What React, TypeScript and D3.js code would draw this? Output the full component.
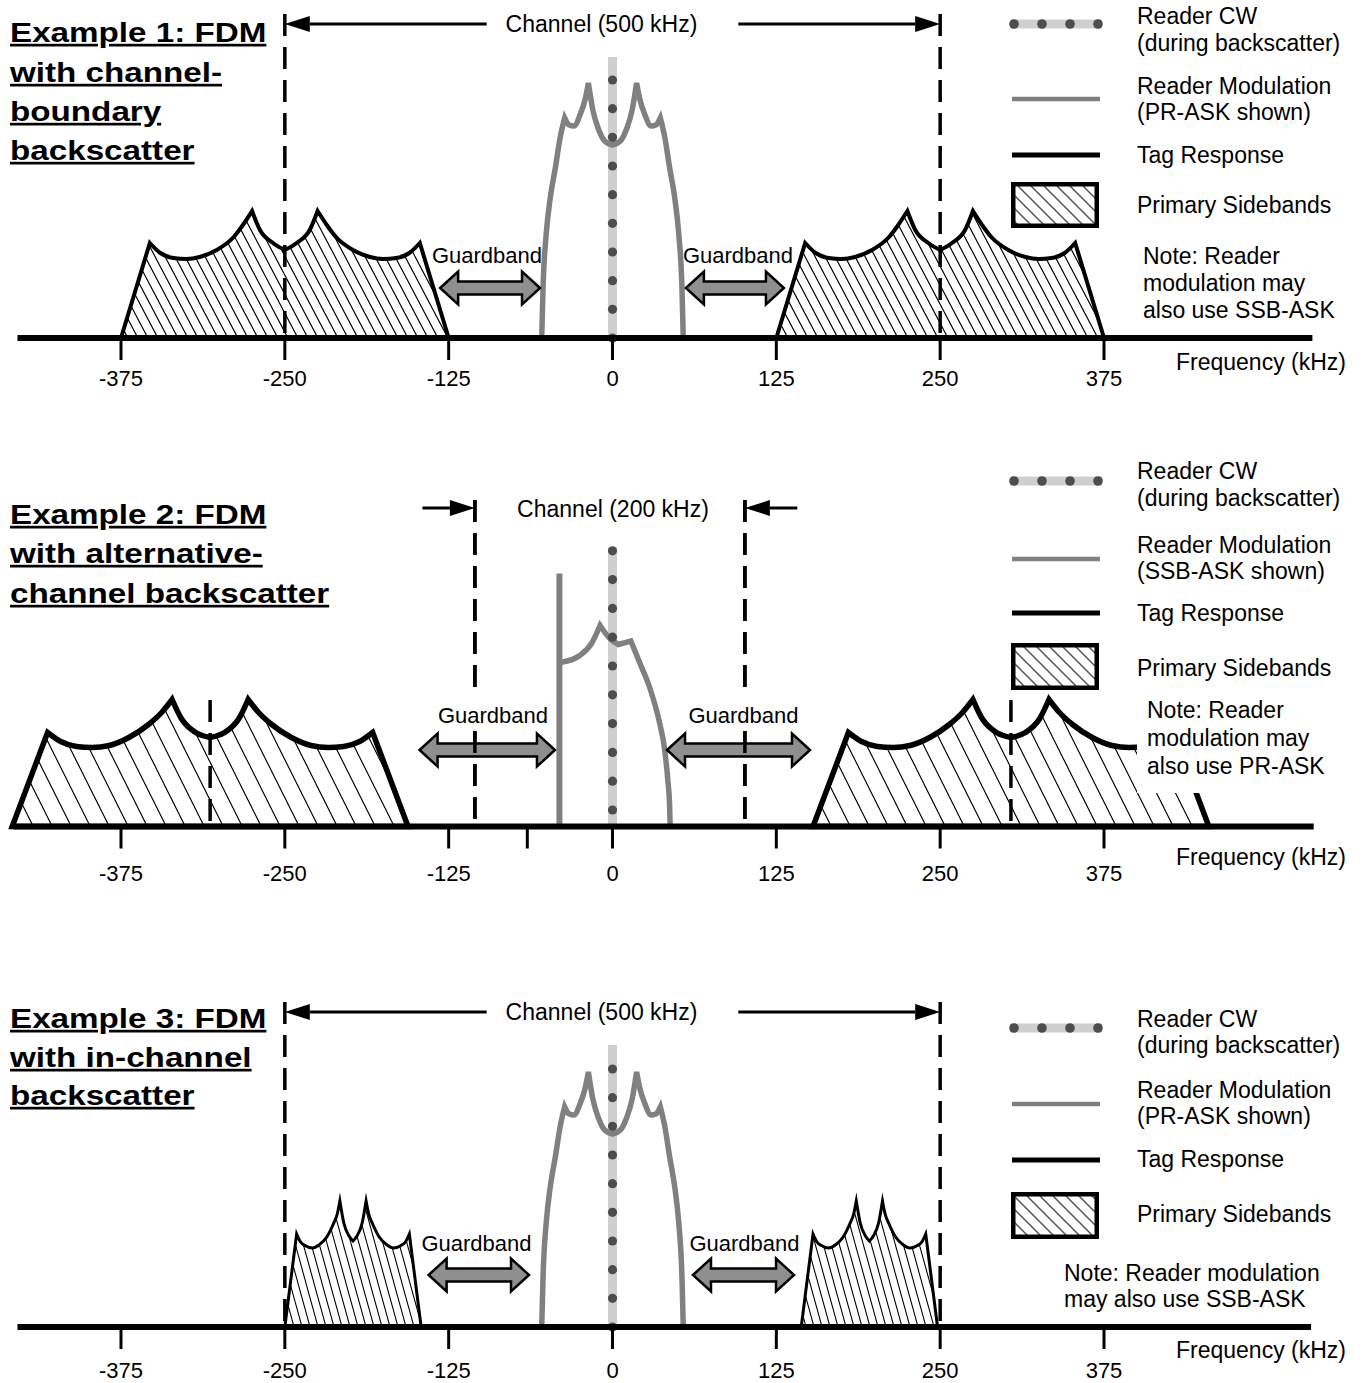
import React from 'react';
import * as d3 from 'd3';

type Pt = [number, number];

const FONT = '"Liberation Sans", Arial, Helvetica, sans-serif';
const GRAY = '#808080';

// ---------------- DATA ----------------
// frequency axis (kHz)
const ticks1 = [-375, -250, -125, 0, 125, 250, 375];
const ticks2 = [-375, -250, -125, -65, 0, 125, 250, 375];
const ticks3 = [-375, -250, -125, 0, 125, 250, 375];
const labelTicks = [-375, -250, -125, 0, 125, 250, 375];
const axisExtent1: Pt = [-454, 534];
const axisExtent2: Pt = [-457, 535];
const axisExtent3: Pt = [-454, 533];

// Primary sidebands: left half shape (offset from sideband centre in kHz, relative level)
const sb1Edge: Pt[] = [[-125, 0], [-103, 95]];
const sb1Arc: Pt[] = [[-103, 95], [-95, 85], [-85, 80], [-75, 79], [-65, 81], [-52, 88], [-39, 101], [-32, 113], [-25, 127]];
const sb1Mid: Pt[] = [[-25, 127], [-19, 108], [-9, 95], [0, 88]];
const sbCentres1 = [-250, 250];

const sb2Edge: Pt[] = [[-151, 0], [-124, 94]];
const sb2Arc: Pt[] = [[-124, 94], [-114, 85], [-102, 80], [-90, 79], [-77, 81], [-62, 89], [-47, 102], [-37, 114], [-29, 127]];
const sb2Mid: Pt[] = [[-29, 127], [-22, 108], [-11, 94], [0, 89]];
const sbCentres2 = [-307, 304];

const sb3Edge: Pt[] = [[-52, 0], [-43, 93]];
const sb3Arc: Pt[] = [[-43, 93], [-40, 85], [-36, 81], [-31, 79], [-26, 82], [-20, 90], [-15, 103], [-12, 113], [-10, 126]];
const sb3Mid: Pt[] = [[-10, 126], [-7, 104], [-3, 91], [0, 86]];
const sbCentres3 = [-198, 196];

// Reader modulation, PR-ASK (left half, kHz, level)
const prEdge: Pt[] = [[-54, 0], [-53, 50], [-50.5, 105], [-47.5, 140], [-43.5, 171], [-40, 200], [-36.5, 220]];
const prArc: Pt[] = [[-36.5, 220], [-33, 213], [-29.5, 212], [-24.5, 224], [-21, 238], [-18.4, 255]];
const prMid: Pt[] = [[-18.4, 255], [-15, 228], [-11, 210], [-6, 197], [0, 193]];

// Reader modulation, SSB-ASK (kHz, level)
const ssbCut: Pt[] = [[-40.5, 0], [-40.5, 253]];
const ssbRise: Pt[] = [[-40.5, 164], [-38, 164.5], [-25, 171], [-16, 183], [-9.5, 201]];
const ssbDip: Pt[] = [[-9.5, 201], [-2, 188], [4.5, 182]];
const ssbShoulder: Pt[] = [[4.5, 182], [14, 185.5]];
const ssbFall: Pt[] = [[14, 185.5], [21, 163], [28.6, 138], [35.5, 106], [40, 75], [42.3, 45], [43.6, 20], [44, 0]];

// Reader CW (dot levels and bar top level)
const cwDots1 = [0, 28.7, 57.3, 86, 114.7, 143.3, 172, 200.7, 229.3, 258];
const cwDots2 = [16.5, 45.3, 74.1, 102.9, 131.7, 160.5, 189.3, 218.1, 246.9, 275.7];
const cwDots3 = [0, 28.7, 57.3, 86, 114.7, 143.3, 172, 200.7, 229.3, 258];
const cwTop1 = 281, cwTop2 = 279, cwTop3 = 282;

// Channel edges and channel arrow tails (kHz)
const channel1: Pt = [-250, 250];
const channel2: Pt = [-105, 101];
const channel3: Pt = [-250, 250];
const chanTails1: Pt = [-96, 96];
const chanTails2: Pt = [-145, 141];
const chanTails3: Pt = [-96, 96];

// Guardbands (kHz)
const guards1: Pt[] = [[-131.5, -55.3], [56, 130.8]];
const guards2: Pt[] = [[-147.2, -43.9], [41.6, 150.7]];
const guards3: Pt[] = [[-140.3, -63.7], [61.4, 138.5]];

// Text
const titles1 = ['Example 1: FDM', 'with channel-', 'boundary', 'backscatter'];
const titles2 = ['Example 2: FDM', 'with alternative-', 'channel backscatter'];
const titles3 = ['Example 3: FDM', 'with in-channel', 'backscatter'];
const notes1 = ['Note: Reader', 'modulation may', 'also use SSB-ASK'];
const notes2 = ['Note: Reader', 'modulation may', 'also use PR-ASK'];
const notes3 = ['Note: Reader modulation', 'may also use SSB-ASK'];
const legendMod1 = '(PR-ASK shown)';
const legendMod2 = '(SSB-ASK shown)';
const legendMod3 = '(PR-ASK shown)';

// ---------------- HELPERS ----------------
type Seg = { pts: Pt[]; curve: d3.CurveFactory };

const mirror = (pts: Pt[]): Pt[] => pts.map(([f, l]) => [-f, l] as Pt).reverse();

function symmetricSegs(edge: Pt[], arc: Pt[], mid: Pt[], edgeCurve: d3.CurveFactory): Seg[] {
  return [
    { pts: edge, curve: edgeCurve },
    { pts: arc, curve: d3.curveMonotoneX },
    { pts: mid, curve: d3.curveMonotoneX },
    { pts: mirror(mid), curve: d3.curveMonotoneX },
    { pts: mirror(arc), curve: d3.curveMonotoneX },
    { pts: mirror(edge), curve: edgeCurve },
  ];
}

function joinSegs(segs: Seg[], x: (v: number) => number, y: (v: number) => number, dx = 0): string {
  return segs
    .map((s, i) => {
      const p = d3.line<Pt>().x(d => x(d[0] + dx)).y(d => y(d[1])).curve(s.curve)(s.pts) || '';
      return i === 0 ? p : 'L' + p.slice(1);
    })
    .join('');
}

function blockArrow(x0: number, x1: number, yc: number) {
  const hl = 18, hh = 16.5, sh = 6.5;
  return `M${x0},${yc}L${x0 + hl},${yc - hh}L${x0 + hl},${yc - sh}L${x1 - hl},${yc - sh}L${x1 - hl},${yc - hh}L${x1},${yc}L${x1 - hl},${yc + hh}L${x1 - hl},${yc + sh}L${x0 + hl},${yc + sh}L${x0 + hl},${yc + hh}Z`;
}

interface PanelCfg {
  axisY: number;
  axisExtent: Pt;
  ticks: number[];
  tickLabelY: number;
  freqY: number;
  titles: string[];
  titleY: number[];
  sbSegs: Seg[];
  sbCentres: number[];
  sbHatch: string;
  sbStroke: number;
  sbCentreDashTop?: number;
  reader: 'pr' | 'ssb';
  cwDots: number[];
  cwTop: number;
  channel: Pt;
  chanTails: Pt;
  chanDashTop: number;
  chanArrowY: number;
  chanLabel: string;
  chanLabelX: number;
  chanLabelY: number;
  guards: Pt[];
  guardY: number;
  guardLabelY: number;
  guardLabelX: number[];
  guardLabelBg?: boolean;
  legendCwY: number;
  legendModY: number;
  legendTagY: number;
  legendBox: Pt;
  legendTextY: number[];
  legendMod: string;
  notes: string[];
  noteX: number;
  noteY: number[];
  noteMask?: [number, number, number, number];
}

const panels: PanelCfg[] = [
  {
    axisY: 338, axisExtent: axisExtent1, ticks: ticks1, tickLabelY: 386, freqY: 370,
    titles: titles1, titleY: [42, 82, 121, 160],
    sbSegs: symmetricSegs(sb1Edge, sb1Arc, sb1Mid, d3.curveLinear), sbCentres: sbCentres1, sbHatch: 'hatch1', sbStroke: 4,
    reader: 'pr', cwDots: cwDots1, cwTop: cwTop1,
    channel: channel1, chanTails: chanTails1, chanDashTop: 14, chanArrowY: 24,
    chanLabel: 'Channel (500 kHz)', chanLabelX: 601.5, chanLabelY: 32,
    guards: guards1, guardY: 288, guardLabelY: 263, guardLabelX: [487, 738],
    legendCwY: 24, legendModY: 99, legendTagY: 155, legendBox: [182, 228],
    legendTextY: [24, 51, 94, 120, 163, 213], legendMod: legendMod1,
    notes: notes1, noteX: 1143, noteY: [264, 291, 318],
  },
  {
    axisY: 826.5, axisExtent: axisExtent2, ticks: ticks2, tickLabelY: 881, freqY: 865,
    titles: titles2, titleY: [524, 563, 603],
    sbSegs: symmetricSegs(sb2Edge, sb2Arc, sb2Mid, d3.curveLinear), sbCentres: sbCentres2, sbHatch: 'hatch2', sbStroke: 5.5,
    sbCentreDashTop: 700,
    reader: 'ssb', cwDots: cwDots2, cwTop: cwTop2,
    channel: channel2, chanTails: chanTails2, chanDashTop: 500, chanArrowY: 508,
    chanLabel: 'Channel (200 kHz)', chanLabelX: 613, chanLabelY: 517,
    guards: guards2, guardY: 750, guardLabelY: 723, guardLabelX: [493, 743.5], guardLabelBg: true,
    legendCwY: 481, legendModY: 559, legendTagY: 613, legendBox: [643, 690],
    legendTextY: [479, 506, 553, 579, 621, 676], legendMod: legendMod2,
    notes: notes2, noteX: 1147, noteY: [718, 746, 774],
    noteMask: [1137, 692, 215, 101],
  },
  {
    axisY: 1327, axisExtent: axisExtent3, ticks: ticks3, tickLabelY: 1378, freqY: 1358,
    titles: titles3, titleY: [1028, 1067, 1105],
    sbSegs: symmetricSegs(sb3Edge, sb3Arc, sb3Mid, d3.curveLinear), sbCentres: sbCentres3, sbHatch: 'hatch3', sbStroke: 3,
    reader: 'pr', cwDots: cwDots3, cwTop: cwTop3,
    channel: channel3, chanTails: chanTails3, chanDashTop: 1002, chanArrowY: 1012,
    chanLabel: 'Channel (500 kHz)', chanLabelX: 601.5, chanLabelY: 1020,
    guards: guards3, guardY: 1275, guardLabelY: 1251, guardLabelX: [476.5, 744.5],
    legendCwY: 1028, legendModY: 1104, legendTagY: 1160, legendBox: [1192, 1239],
    legendTextY: [1027, 1053, 1098, 1124, 1167, 1222], legendMod: legendMod3,
    notes: notes3, noteX: 1064, noteY: [1281, 1307],
  },
];

const x = d3.scaleLinear().domain([-375, 375]).range([121, 1104]);

function Hatch({ id, a, b, sw, color }: { id: string; a: number; b: number; sw: number; color: string }) {
  const d = `M${-a},${-b}L${2 * a},${2 * b}M0,${-b}L${2 * a},${b}M${-2 * a},${-b}L${a},${2 * b}`;
  return (
    <pattern id={id} patternUnits="userSpaceOnUse" width={a} height={b}>
      <rect width={a} height={b} fill="#fff" />
      <path d={d} stroke={color} strokeWidth={sw} fill="none" />
    </pattern>
  );
}

function Panel({ p }: { p: PanelCfg }) {
  const y = d3.scaleLinear().domain([0, 300]).range([p.axisY, p.axisY - 300]);
  const dash = '22 11';
  const prSegs = symmetricSegs(prEdge, prArc, prMid, d3.curveMonotoneX);
  const ssbSegs: Seg[] = [
    { pts: ssbRise, curve: d3.curveMonotoneX },
    { pts: ssbDip, curve: d3.curveMonotoneX },
    { pts: ssbShoulder, curve: d3.curveLinear },
    { pts: ssbFall, curve: d3.curveMonotoneX },
  ];
  const lineGen = d3.line<Pt>().x(d => x(d[0])).y(d => y(d[1]));
  const cx = x(0);
  const legendDots = [1014, 1042, 1070, 1098];

  const chanArrow = (tail: number, tip: number, key: string) => {
    const xt = x(tip), xs = x(tail);
    const dir = Math.sign(xt - xs);
    const hl = 25, hh = 8, yc = p.chanArrowY;
    return (
      <g key={key}>
        <line x1={xs} y1={yc} x2={xt - dir * hl} y2={yc} stroke="#000" strokeWidth={3} />
        <path d={`M${xt},${yc}L${xt - dir * hl},${yc - hh}L${xt - dir * hl},${yc + hh}Z`} fill="#000" />
      </g>
    );
  };

  return (
    <g>
      {/* primary sidebands */}
      {p.sbCentres.map((c, i) => (
        <path key={'sb' + i} d={joinSegs(p.sbSegs, x, y, c) + 'Z'} fill={`url(#${p.sbHatch})`}
          stroke="#000" strokeWidth={p.sbStroke} strokeLinejoin="miter" strokeMiterlimit={10} />
      ))}
      {p.noteMask && (
        <rect x={p.noteMask[0]} y={p.noteMask[1]} width={p.noteMask[2]} height={p.noteMask[3]} fill="#fff" />
      )}
      {/* sideband centre dashes (example 2) */}
      {p.sbCentreDashTop !== undefined && p.sbCentres.map((c, i) => (
        <line key={'sbc' + i} x1={x(c)} x2={x(c)} y1={p.sbCentreDashTop} y2={p.axisY} stroke="#000" strokeWidth={3.5} strokeDasharray={dash} />
      ))}
      {/* channel dashed boundaries */}
      {p.channel.map((c, i) => (
        <line key={'ch' + i} x1={x(c)} x2={x(c)} y1={p.chanDashTop} y2={p.axisY} stroke="#000" strokeWidth={3.5} strokeDasharray={dash} />
      ))}
      {/* reader CW bar */}
      <line x1={cx} x2={cx} y1={y(p.cwTop)} y2={p.axisY} stroke="#cfcfcf" strokeWidth={9} />
      {/* reader modulation */}
      {p.reader === 'pr' ? (
        <path d={joinSegs(prSegs, x, y)} fill="none" stroke={GRAY} strokeWidth={5.5} strokeLinejoin="miter" />
      ) : (
        <g>
          <path d={lineGen(ssbCut) || ''} fill="none" stroke={GRAY} strokeWidth={6} />
          <path d={joinSegs(ssbSegs, x, y)} fill="none" stroke={GRAY} strokeWidth={5.5} strokeLinejoin="miter" />
        </g>
      )}
      {/* CW dots */}
      {p.cwDots.map((l, i) => (
        <circle key={'dot' + i} cx={cx} cy={y(l)} r={4.6} fill="#4d4d4d" />
      ))}
      {/* guardband arrows */}
      {p.guards.map((g, i) => (
        <path key={'gb' + i} d={blockArrow(x(g[0]), x(g[1]), p.guardY)} fill="#8f8f8f" stroke="#000" strokeWidth={2.5} strokeLinejoin="miter" />
      ))}
      {/* dashed channel lines drawn over guard arrows in example 2 */}
      {p.reader === 'ssb' && p.channel.map((c, i) => (
        <line key={'ch2' + i} x1={x(c)} x2={x(c)} y1={p.chanDashTop} y2={p.axisY} stroke="#000" strokeWidth={3.5} strokeDasharray={dash} />
      ))}
      {/* guardband labels */}
      {p.guardLabelX.map((gx, i) => (
        <g key={'gl' + i}>
          {p.guardLabelBg && <rect x={gx - 56} y={p.guardLabelY - 26} width={112} height={34} fill="#fff" />}
          <text x={gx} y={p.guardLabelY} fontSize={22} textAnchor="middle" fill="#000">Guardband</text>
        </g>
      ))}
      {/* axis */}
      <line x1={x(p.axisExtent[0])} x2={x(p.axisExtent[1])} y1={p.axisY} y2={p.axisY} stroke="#000" strokeWidth={6} />
      {p.ticks.map(t => (
        <line key={'t' + t} x1={x(t)} x2={x(t)} y1={p.axisY} y2={p.axisY + 22} stroke="#000" strokeWidth={3} />
      ))}
      {labelTicks.map(t => (
        <text key={'tl' + t} x={x(t)} y={p.tickLabelY} fontSize={22} textAnchor="middle" fill="#000">{String(t)}</text>
      ))}
      <text x={1176} y={p.freqY} fontSize={23} fill="#000">Frequency (kHz)</text>
      {/* channel annotation */}
      {chanArrow(p.chanTails[0], p.channel[0], 'ca0')}
      {chanArrow(p.chanTails[1], p.channel[1], 'ca1')}
      <text x={p.chanLabelX} y={p.chanLabelY} fontSize={23} textAnchor="middle" fill="#000">{p.chanLabel}</text>
      {/* titles */}
      {p.titles.map((t, i) => (
        <text key={'ti' + i} transform={`translate(10,${p.titleY[i]}) scale(1.23,1)`} fontSize={27} fontWeight="bold"
          fill="#000" style={{ textDecoration: 'underline' }}>{t}</text>
      ))}
      {/* legend */}
      <line x1={1010} x2={1102} y1={p.legendCwY} y2={p.legendCwY} stroke="#cfcfcf" strokeWidth={9} />
      {legendDots.map((d, i) => <circle key={'ld' + i} cx={d} cy={p.legendCwY} r={4.8} fill="#4d4d4d" />)}
      <line x1={1012} x2={1100} y1={p.legendModY} y2={p.legendModY} stroke={GRAY} strokeWidth={4.5} />
      <line x1={1012} x2={1100} y1={p.legendTagY} y2={p.legendTagY} stroke="#000" strokeWidth={5} />
      <rect x={1013.25} y={p.legendBox[0] + 2.25} width={83.5} height={p.legendBox[1] - p.legendBox[0] - 4.5}
        fill="url(#hatchL)" stroke="#000" strokeWidth={4.5} />
      <g fontSize={23} fill="#000">
        <text x={1137} y={p.legendTextY[0]}>Reader CW</text>
        <text x={1137} y={p.legendTextY[1]}>(during backscatter)</text>
        <text x={1137} y={p.legendTextY[2]}>Reader Modulation</text>
        <text x={1137} y={p.legendTextY[3]}>{p.legendMod}</text>
        <text x={1137} y={p.legendTextY[4]}>Tag Response</text>
        <text x={1137} y={p.legendTextY[5]}>Primary Sidebands</text>
        {p.notes.map((n, i) => <text key={'n' + i} x={p.noteX} y={p.noteY[i]}>{n}</text>)}
      </g>
    </g>
  );
}

export default function App() {
  return (
    <svg width={1363} height={1383} viewBox="0 0 1363 1383" fontFamily={FONT}
      style={{ position: 'absolute', left: 0, top: 0, display: 'block', background: '#fff' }}>
      <defs>
        <Hatch id="hatch1" a={10} b={19} sw={1.2} color="#000" />
        <Hatch id="hatch2" a={19} b={38} sw={1.2} color="#000" />
        <Hatch id="hatch3" a={8} b={29} sw={1.1} color="#000" />
        <Hatch id="hatchL" a={13} b={13} sw={1.5} color="#555" />
      </defs>
      <rect width={1363} height={1383} fill="#fff" />
      {panels.map((p, i) => <Panel key={i} p={p} />)}
    </svg>
  );
}
